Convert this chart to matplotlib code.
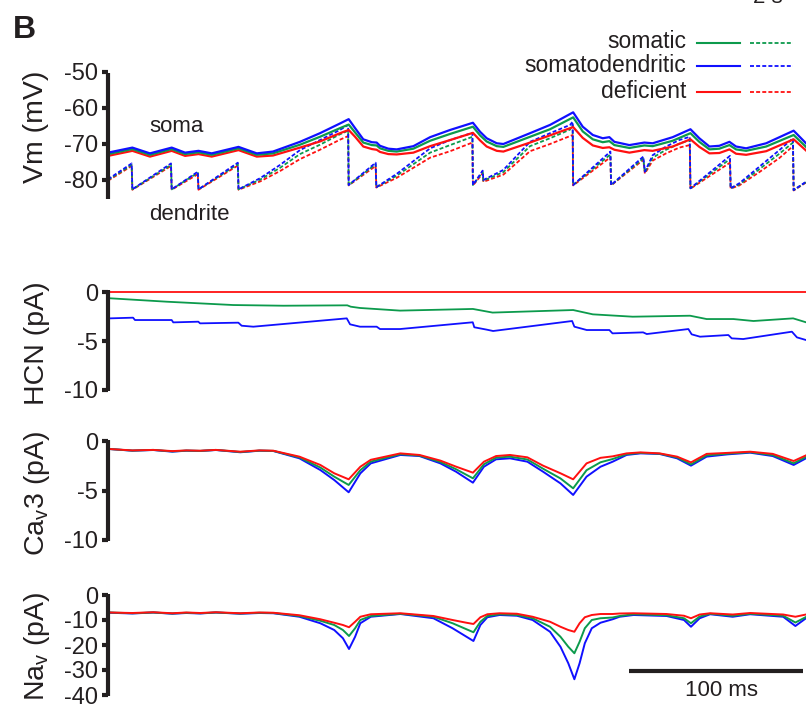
import matplotlib
matplotlib.use("Agg")
import matplotlib.pyplot as plt
from matplotlib.lines import Line2D

plt.rcParams["font.family"] = ["Liberation Sans", "DejaVu Sans"]
plt.rcParams["axes.unicode_minus"] = False
plt.rcParams["mathtext.default"] = "regular"

# ---------------- data (time in ms) ----------------
series_names = ["somatic", "somatodendritic", "deficient"]
colors = {"somatic": "#0c9a4c", "somatodendritic": "#1010ff", "deficient": "#ff1010"}

# somatic membrane potential (mV)
t_soma = [0, 14.0, 24.1, 36.6, 44.3, 52.0, 59.6, 75.0, 85.5, 94.8,
          110.3, 121.8, 133.3, 138.3, 142.0, 146.7, 151.6, 154.4, 156.3, 161.1,
          165.9, 175.5, 185.1, 196.6, 209.7, 213.8, 217.6, 223.4, 227.2, 242.5,
          254.0, 267.3, 272.8, 278.6, 284.3, 288.1, 291.0, 299.6, 308.2, 313.0,
          324.5, 334.7, 339.8, 345.6, 351.3, 357.1, 360.9, 366.7, 378.2, 394.0,
          401.1]
soma_somatodendritic = [-72.4, -71.0, -72.6, -71.0, -72.4, -71.9, -72.6, -70.8, -72.6, -72.1,
                        -69.4, -67.0, -64.3, -63.1, -65.6, -68.7, -69.5, -69.6, -70.5, -71.3,
                        -71.5, -70.6, -68.1, -66.1, -64.1, -66.6, -68.4, -69.8, -70.0, -67.0,
                        -64.7, -61.2, -65.2, -67.5, -68.4, -68.1, -69.4, -70.3, -69.6, -69.8,
                        -68.1, -65.9, -68.4, -70.7, -70.5, -69.4, -70.7, -71.2, -69.8, -66.3,
                        -69.8]
soma_somatic = [-72.8, -71.4, -73.0, -71.4, -72.8, -72.3, -73.0, -71.2, -73.0, -72.6,
                -70.2, -68.0, -65.6, -64.6, -66.8, -69.6, -70.3, -70.4, -71.2, -71.9,
                -72.1, -71.3, -69.1, -67.2, -65.2, -67.6, -69.3, -70.6, -70.8, -68.0,
                -65.9, -62.6, -66.5, -68.7, -69.5, -69.2, -70.3, -71.1, -70.4, -70.6,
                -69.1, -67.0, -69.4, -71.5, -71.3, -70.3, -71.5, -71.9, -70.7, -67.5,
                -70.8]
soma_deficient = [-73.3, -71.9, -73.5, -71.9, -73.3, -72.8, -73.5, -71.7, -73.5, -73.2,
                  -71.0, -69.3, -67.0, -66.1, -68.0, -70.7, -71.4, -71.6, -72.2, -72.8,
                  -72.9, -72.4, -70.6, -68.9, -66.9, -69.0, -70.7, -71.9, -72.1, -69.6,
                  -67.6, -65.3, -68.3, -70.4, -71.1, -70.9, -71.6, -72.4, -71.7, -71.9,
                  -70.7, -68.7, -70.8, -72.6, -72.5, -71.5, -72.7, -73.0, -72.0, -68.7,
                  -71.8]

# dendritic membrane potential (mV)
t_dend = [0, 13.6, 14.0, 36.2, 36.6, 51.6, 52.0, 74.6, 75.0, 87.4,
          98.9, 110.3, 121.8, 133.3, 138.0, 138.3, 153.8, 154.2, 165.9, 185.1,
          196.6, 209.4, 209.7, 215.3, 215.7, 227.2, 242.5, 254.0, 265.5, 267.0,
          267.3, 288.7, 289.1, 307.6, 308.5, 313.0, 320.7, 328.3, 334.3, 334.7,
          357.4, 357.8, 362.8, 374.3, 385.8, 393.6, 394.0, 401.1]
dend_somatodendritic = [-79.8, -75.4, -82.6, -75.4, -82.6, -77.7, -82.6, -75.2, -82.6, -79.5,
                        -75.8, -71.7, -68.9, -66.1, -64.7, -81.4, -75.2, -82.0, -78.3, -71.2,
                        -68.9, -66.9, -81.4, -77.4, -80.0, -77.2, -69.4, -67.0, -64.7, -63.8,
                        -81.4, -72.1, -81.4, -73.5, -77.7, -73.1, -70.7, -68.9, -68.0, -82.3,
                        -73.3, -82.3, -80.9, -76.3, -71.7, -68.4, -82.8, -80.5]
dend_somatic = [-80.0, -75.8, -82.6, -75.8, -82.6, -78.0, -82.6, -75.6, -82.6, -79.9,
                -76.6, -72.8, -70.2, -67.3, -66.3, -81.4, -75.6, -82.0, -78.8, -72.4,
                -70.3, -68.0, -81.4, -77.8, -80.2, -77.8, -70.6, -68.4, -66.0, -64.7,
                -81.4, -72.9, -81.4, -74.0, -77.9, -73.8, -71.6, -69.9, -68.9, -82.3,
                -74.2, -82.3, -81.2, -77.0, -72.7, -69.6, -82.8, -80.6]
dend_deficient = [-80.2, -76.1, -82.7, -76.1, -82.7, -78.4, -82.7, -76.0, -82.7, -80.4,
                  -77.5, -74.2, -71.6, -68.8, -67.8, -81.5, -76.1, -82.1, -79.4, -73.8,
                  -72.0, -69.6, -81.5, -78.2, -80.5, -78.5, -72.0, -70.0, -67.8, -67.5,
                  -81.5, -73.7, -81.5, -74.4, -78.2, -74.6, -72.6, -71.0, -70.3, -82.4,
                  -75.2, -82.4, -81.5, -77.8, -73.9, -70.6, -82.9, -80.7]

# HCN current (pA)
t_hcn_somatic = [1, 33.7, 72, 100.8, 137.5, 139.5, 144.8, 167.8, 209.7, 221,
                 267.3, 278.6, 301.5, 334.5, 344, 359.4, 370.9, 393.7, 401.1]
hcn_somatic = [-0.64, -0.99, -1.33, -1.4, -1.36, -1.5, -1.63, -1.9, -1.73, -2.1,
               -1.84, -2.28, -2.52, -2.42, -2.76, -2.76, -2.96, -2.69, -3.09]
t_hcn_sd = [1.1, 14.4, 15.5, 36.6, 37.5, 51.9, 52.9, 74.9, 76.8, 83.5,
            137.2, 139.1, 144.8, 154.4, 156.3, 167.8, 209.6, 210.5, 217.6, 221.3,
            266.7, 268.0, 275.1, 288.1, 289.9, 307.5, 309.6, 333.5, 335.4, 340.2,
            356.5, 358.4, 365.0, 393.0, 395.9, 401.1]
hcn_somatodendritic = [-2.69, -2.62, -2.86, -2.86, -3.1, -3.03, -3.2, -3.13, -3.44, -3.54,
                       -2.69, -3.3, -3.54, -3.54, -3.78, -3.78, -3.09, -3.6, -3.84, -3.98,
                       -2.96, -3.54, -3.88, -3.88, -4.22, -4.12, -4.29, -3.78, -4.32, -4.56,
                       -4.39, -4.73, -4.8, -4.05, -4.63, -4.9]
t_hcn_def = [0, 401.1]
hcn_deficient = [0.0, 0.0]

# Cav3 current (pA)
t_cav = [1, 14, 26, 37, 45, 53, 62, 76, 87, 95,
         110, 122, 130, 138.3, 145, 151, 168, 179, 191, 200,
         209.7, 216, 223, 231, 241, 250, 260, 267.3, 275, 283,
         290, 298, 306, 317, 327, 335, 344, 356, 369, 382,
         394, 401.1]
cav_somatodendritic = [-0.81, -0.98, -0.91, -1.08, -0.98, -1.01, -0.91, -1.14, -0.98, -1.01,
                       -1.75, -2.93, -3.94, -5.18, -3.27, -2.26, -1.41, -1.52, -2.26, -3.1,
                       -4.21, -2.6, -1.85, -1.75, -2.09, -3.1, -4.28, -5.45, -3.6, -2.6,
                       -2.09, -1.41, -1.25, -1.31, -1.75, -2.49, -1.58, -1.35, -1.18, -1.52,
                       -2.42, -1.75]
cav_somatic = [-0.81, -0.97, -0.9, -1.05, -0.97, -1.0, -0.9, -1.11, -0.97, -1.0,
               -1.66, -2.68, -3.6, -4.44, -2.95, -2.08, -1.33, -1.47, -2.12, -2.85,
               -3.77, -2.35, -1.68, -1.58, -1.87, -2.8, -3.78, -4.78, -2.95, -2.15,
               -1.82, -1.33, -1.2, -1.28, -1.66, -2.36, -1.45, -1.28, -1.13, -1.42,
               -2.25, -1.6]
cav_deficient = [-0.81, -0.95, -0.9, -1.02, -0.95, -0.98, -0.9, -1.08, -0.95, -0.98,
                 -1.58, -2.42, -3.26, -3.87, -2.6, -1.9, -1.25, -1.41, -1.98, -2.59,
                 -3.2, -2.09, -1.52, -1.41, -1.65, -2.49, -3.26, -3.87, -2.26, -1.7,
                 -1.55, -1.25, -1.15, -1.25, -1.58, -2.16, -1.3, -1.2, -1.08, -1.3,
                 -2.02, -1.45]

# Nav current (pA)
t_nav = [1, 14, 26, 37, 45, 53, 62, 76, 87, 95,
         110, 122, 130, 135, 138.5, 142, 145, 151, 168, 187,
         198, 206, 210, 214, 218, 225, 235, 244, 254, 260,
         264.5, 268, 271, 274, 278, 283, 290, 294, 302, 321,
         331, 335, 340, 346, 359, 369, 388, 395, 401.1]
nav_somatodendritic = [-7.1, -7.4, -7.0, -7.5, -7.2, -7.4, -7.0, -7.5, -7.2, -7.3,
                       -8.7, -11.3, -14.0, -17.3, -21.6, -16.7, -11.3, -8.7, -7.6, -9.3,
                       -13.3, -16.7, -18.4, -12.0, -8.9, -8.0, -8.3, -10.0, -14.7, -20.7,
                       -27.3, -33.7, -27.3, -19.3, -13.3, -11.1, -9.7, -8.7, -8.0, -8.4,
                       -10.0, -12.7, -9.3, -7.7, -8.7, -7.7, -8.7, -12.4, -9.3]
nav_somatic = [-7.0, -7.3, -7.0, -7.4, -7.1, -7.3, -7.0, -7.4, -7.1, -7.2,
               -8.4, -10.3, -12.0, -14.0, -16.4, -13.3, -10.0, -8.4, -7.5, -8.7,
               -11.3, -13.7, -14.9, -10.7, -8.4, -7.7, -8.0, -9.3, -12.7, -16.7,
               -20.7, -23.3, -18.7, -13.3, -10.0, -9.3, -9.0, -8.4, -7.7, -8.1,
               -9.3, -11.3, -8.6, -7.5, -8.3, -7.5, -8.3, -11.0, -8.8]
nav_deficient = [-7.0, -7.2, -6.9, -7.3, -7.0, -7.2, -6.9, -7.3, -7.0, -7.1,
                 -8.1, -9.7, -11.1, -12.0, -12.9, -10.7, -8.7, -7.7, -7.3, -8.4,
                 -10.0, -11.1, -11.6, -8.9, -7.7, -7.3, -7.5, -8.7, -10.7, -12.7,
                 -14.0, -14.7, -11.3, -8.9, -8.0, -7.6, -7.6, -7.4, -7.3, -7.6,
                 -8.3, -9.3, -7.8, -7.3, -7.8, -7.2, -7.8, -8.7, -7.8]

scale_bar_ms = 100

# ---------------- layout ----------------
W, H = 806, 709
INK = "#231f20"
fig = plt.figure(figsize=(W / 100, H / 100), dpi=100)


def fx(x):
    return x / W


def fy(y):
    return 1 - y / H


def make_axes(top, bottom, ylim, ticks, bounds):
    ax = fig.add_axes([fx(108), fy(bottom), (W - 108) / W, (bottom - top) / H])
    ax.set_xlim(0, 401.1)
    ax.set_ylim(*ylim)
    ax.patch.set_visible(False)
    for s in ("top", "right", "bottom"):
        ax.spines[s].set_visible(False)
    ax.spines["left"].set_linewidth(3.0)
    ax.spines["left"].set_color(INK)
    ax.spines["left"].set_bounds(*bounds)
    ax.spines["left"].set_capstyle("butt")
    ax.set_xticks([])
    ax.set_yticks(ticks)
    ax.set_yticklabels([str(v) for v in ticks])
    ax.tick_params(axis="y", direction="out", length=4.5, width=3.0,
                   color=INK, labelcolor=INK, labelsize=17, pad=2.5)
    return ax


ax_vm = make_axes(60, 200, (-50 - 128 / 3.6, -50 + 12 / 3.6), [-80, -70, -60, -50], (-85.3, -50.3))
ax_hcn = make_axes(280, 395, (-103 / 9.8, 12 / 9.8), [-10, -5, 0], (-10.1, 0.2))
ax_cav = make_axes(430, 545, (-104 / 9.9, 11 / 9.9), [-10, -5, 0], (-10.1, 0.1))
ax_nav = make_axes(585, 700, (-42, 4), [-40, -30, -20, -10, 0], (-40.5, 0.4))

dash = (0, (2.2, 1.2))
dend = {"somatic": dend_somatic, "somatodendritic": dend_somatodendritic,
        "deficient": dend_deficient}
soma = {"somatic": soma_somatic, "somatodendritic": soma_somatodendritic,
        "deficient": soma_deficient}

for name in ["deficient", "somatic", "somatodendritic"]:
    ax_vm.plot(t_dend, dend[name], color=colors[name], lw=1.3, ls=dash, clip_on=False)
for name in ["deficient", "somatic", "somatodendritic"]:
    ax_vm.plot(t_soma, soma[name], color=colors[name], lw=1.6, clip_on=False,
               solid_joinstyle="round")

ax_hcn.plot(t_hcn_sd, hcn_somatodendritic, color=colors["somatodendritic"], lw=1.3)
ax_hcn.plot(t_hcn_somatic, hcn_somatic, color=colors["somatic"], lw=1.3)
ax_hcn.plot(t_hcn_def, hcn_deficient, color=colors["deficient"], lw=1.3)

for name, vals in [("somatodendritic", cav_somatodendritic), ("somatic", cav_somatic),
                   ("deficient", cav_deficient)]:
    ax_cav.plot(t_cav, vals, color=colors[name], lw=1.4, solid_joinstyle="round")

for name, vals in [("somatodendritic", nav_somatodendritic), ("somatic", nav_somatic),
                   ("deficient", nav_deficient)]:
    ax_nav.plot(t_nav, vals, color=colors[name], lw=1.4, solid_joinstyle="round")

# time scale bar
bar_start = 299.5
ax_nav.plot([bar_start, bar_start + scale_bar_ms], [-30.4, -30.4], color=INK,
            lw=3.0, solid_capstyle="butt", clip_on=False)
ax_nav.text(bar_start + scale_bar_ms / 2 + 3, -38.2, f"{scale_bar_ms} ms", ha="center",
            va="center", fontsize=16, color=INK, clip_on=False)

# axis titles
label_kw = dict(rotation=90, ha="center", va="center", fontsize=20.5, color=INK)
fig.text(fx(36), fy(127), "Vm (mV)", **label_kw)
fig.text(fx(37), fy(343), "HCN (pA)", **label_kw)
fig.text(fx(37), fy(493), r"Ca$_{v}$3 (pA)", **label_kw)
fig.text(fx(37), fy(646), r"Na$_{v}$ (pA)", **label_kw)

# annotations
fig.text(fx(13), fy(38), "B", fontsize=23, fontweight="bold", color=INK, va="baseline")
fig.text(fx(177), fy(126), "soma", fontsize=16, color=INK, ha="center", va="center")
fig.text(fx(189), fy(215), "dendrite", fontsize=16, color=INK, ha="center", va="center")
fig.text(fx(753), fy(3), "2 s", fontsize=16, color=INK, va="baseline")

# legend
legend_rows = [("somatic", 48.5, 42.7), ("somatodendritic", 72.5, 66.0),
               ("deficient", 98.5, 91.7)]
for name, base_y, line_y in legend_rows:
    fig.text(fx(686), fy(base_y), name, fontsize=16.5, color=INK, ha="right", va="baseline")
    fig.add_artist(Line2D([fx(697), fx(740)], [fy(line_y), fy(line_y)],
                          color=colors[name], lw=1.5, transform=fig.transFigure))
    fig.add_artist(Line2D([fx(750), fx(793)], [fy(line_y), fy(line_y)],
                          color=colors[name], lw=1.3, ls=dash, transform=fig.transFigure))

fig.savefig("out.png", dpi=100)
